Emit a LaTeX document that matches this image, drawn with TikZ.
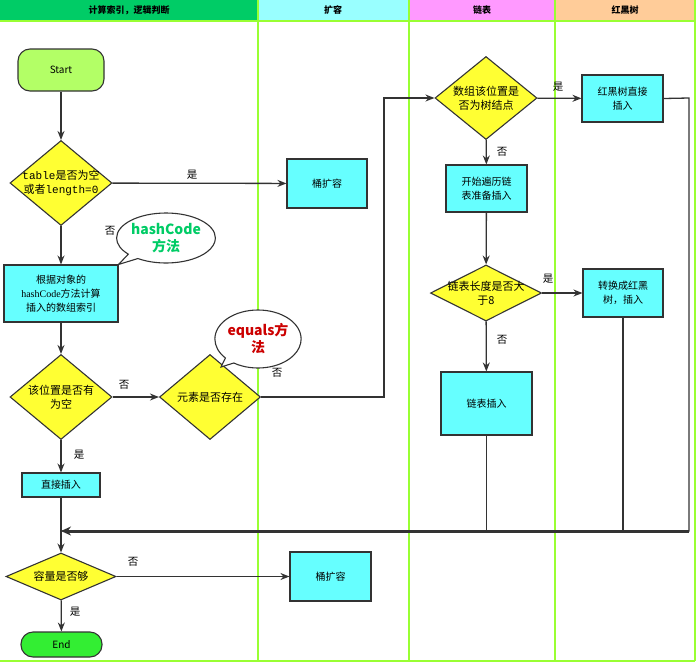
\documentclass[tikz,border=0pt]{standalone}
\usepackage{fontspec}
\setmainfont{Noto Sans CJK SC}
\setmonofont{Liberation Mono}
\newfontfamily\timesf{Liberation Serif}
\usetikzlibrary{shapes.geometric,shapes.callouts,arrows.meta}
\definecolor{linec}{HTML}{333333}
\definecolor{lanec}{HTML}{99FF33}
\definecolor{boxc}{HTML}{66FFFF}
\definecolor{diac}{HTML}{FFFF33}
\definecolor{startc}{HTML}{B3FF66}
\definecolor{endc}{HTML}{33EE33}
\definecolor{hcgreen}{HTML}{00CC66}
\definecolor{eqred}{HTML}{CC0000}
\definecolor{headA}{HTML}{00CC66}
\definecolor{headB}{HTML}{99FFFF}
\definecolor{headC}{HTML}{FF99FF}
\definecolor{headD}{HTML}{FFCC99}
\tikzset{
    flow/.style={draw=linec, line width=1.3pt, -{Stealth[length=9pt,width=7pt]}},
    plain/.style={draw=linec, line width=1.3pt},
    lane/.style={draw=lanec, line width=2pt},
    box/.style={rectangle, draw=linec, line width=1.1pt, fill=boxc, align=center,
        inner sep=0pt, font=\fontsize{10}{14}\selectfont},
    dia/.style={diamond, draw=linec, line width=1.1pt, fill=diac, inner sep=0pt},
    diatext/.style={align=center, font=\fontsize{11}{14}\selectfont},
    term/.style={rectangle, rounded corners=12pt, draw=linec, line width=1.1pt,
        inner sep=0pt, font=\fontsize{10}{12}\selectfont},
    note/.style={ellipse callout, draw=linec, line width=1.1pt, fill=white, align=center,
        inner sep=0pt, font=\fontsize{14}{17}\selectfont\bfseries},
    yn/.style={font=\fontsize{10.5}{12}\selectfont, inner sep=0pt},
    head/.style={font=\fontsize{9}{10}\selectfont\bfseries, inner sep=0pt}
}
\begin{document}
\begin{tikzpicture}[x=1pt, y=-1pt]
        \useasboundingbox (0,0) rectangle (699,667);
        \fill[headA] (0,0) rectangle (258,21);
        \fill[headB] (258,0) rectangle (409,21);
        \fill[headC] (409,0) rectangle (555,21);
        \fill[headD] (555,0) rectangle (695,21);
        \node[head] (h1) at (129,10) {计算索引，逻辑判断};
        \node[head] (h2) at (333,10) {扩容};
        \node[head] (h3) at (482,10) {链表};
        \node[head] (h4) at (625,10) {红黑树};
        \foreach \x in {258, 409, 555, 695} {
            \draw[lane] (\x,0) -- (\x,661);
        }
        \draw[lane] (0,21) -- (695,21);
        \draw[lane] (0,661) -- (695,661);

        \node[term, fill=startc, minimum width=86pt, minimum height=42pt] (start) at (61,70) {Start};
        \node[dia, minimum width=102pt, minimum height=85pt,
            label={[diatext]center:{\ttfamily table}是否为空\\或者{\ttfamily length=0}}] (d1) at (61,183) {};
        \node[box, minimum width=80pt, minimum height=49pt] (ext1) at (327,183.5) {桶扩容};
        \node[box, minimum width=114pt, minimum height=57pt] (idx) at (61,293.5)
            {根据对象的\\{\timesf hashCode}方法计算\\插入的数组索引};
        \node[note, text=hcgreen, minimum width=92pt, minimum height=50pt,
            callout absolute pointer={(idx.north east)}] (hc) at (166,238) {hashCode\\方法};
        \node[dia, minimum width=102pt, minimum height=85pt,
            label={[diatext]center:该位置是否有\\为空}] (d3) at (61,397) {};
        \node[dia, minimum width=101pt, minimum height=85pt,
            label={[diatext]center:元素是否存在}] (d4) at (210,397) {};
        \node[note, text=eqred, minimum width=80pt, minimum height=58pt,
            callout absolute pointer={(221,367)}] (eq) at (258,339) {equals方\\法};
        \node[dia, minimum width=102pt, minimum height=83pt,
            label={[diatext]center:数组该位置是\\否为树结点}] (d5) at (486,98) {};
        \node[box, minimum width=81pt, minimum height=47pt] (rb1) at (622.5,98.5) {红黑树直接\\插入};
        \node[box, minimum width=81pt, minimum height=47pt] (walk) at (486.5,188.5) {开始遍历链\\表准备插入};
        \node[dia, minimum width=111pt, minimum height=56pt,
            label={[diatext]center:链表长度是否大\\于8}] (d6) at (486,293) {};
        \node[box, minimum width=80pt, minimum height=48pt] (rb2) at (623,293) {转换成红黑\\树，插入};
        \node[box, minimum width=91pt, minimum height=63pt] (lins) at (486.5,403.5) {链表插入};
        \node[box, minimum width=78pt, minimum height=24pt] (dir) at (61,485) {直接插入};
        \node[dia, minimum width=110pt, minimum height=47pt,
            label={[diatext]center:容量是否够}] (d7) at (61,576.5) {};
        \node[box, minimum width=81pt, minimum height=49pt] (ext2) at (330.5,576.5) {桶扩容};
        \node[term, fill=endc, minimum width=81pt, minimum height=25pt] (endn) at (61.5,644.5) {End};
        \coordinate (merge) at (61,531);
        \coordinate (turn) at (384,397);
        \coordinate (back) at (689,98);

        \draw[flow] (start) -- (d1);
        \draw[flow] (d1) -- (ext1);
        \draw[flow] (d1) -- (idx);
        \draw[flow] (idx) -- (d3);
        \draw[flow] (d3) -- (d4);
        \draw[flow] (d4.east) -- (turn) |- (d5.west);
        \draw[flow] (d5) -- (rb1);
        \draw[flow] (d5) -- (walk);
        \draw[flow] (walk) -- (d6);
        \draw[flow] (d6) -- (rb2);
        \draw[flow] (d6) -- (lins);
        \draw[flow] (d3) -- (dir);
        \draw[flow] (dir) -- (d7);
        \draw[flow] (d7) -- (ext2);
        \draw[flow] (d7) -- (endn);
        \draw[plain] (rb1.east) -- (back) |- (merge);
        \draw[plain] (lins.south) -- (lins.south |- merge);
        \draw[plain] (rb2.south) -- (rb2.south |- merge);
        \draw[draw=linec, line width=3pt, -{Stealth[length=10pt,width=9pt]}] (back |- merge) -- (merge);

        \node[yn] (y1) at (192,175) {是};
        \node[yn] (n1) at (110,231) {否};
        \node[yn] (n3) at (124,385) {否};
        \node[yn] (n4) at (277,373) {否};
        \node[yn] (y5) at (558,87) {是};
        \node[yn] (n5) at (502,152) {否};
        \node[yn] (y6) at (548,279) {是};
        \node[yn] (n6) at (502,340) {否};
        \node[yn] (y3) at (79,455) {是};
        \node[yn] (n7) at (133,562) {否};
        \node[yn] (y7) at (75,612) {是};
\end{tikzpicture}
\end{document}
